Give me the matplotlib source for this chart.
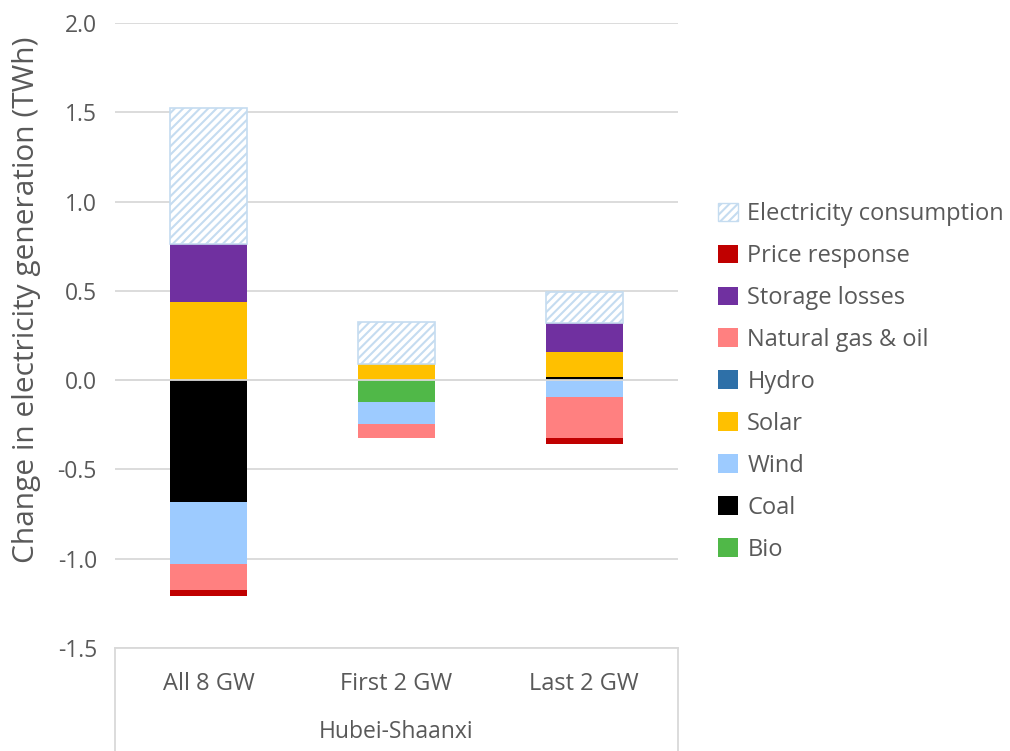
import matplotlib
matplotlib.use('Agg')
from matplotlib import pyplot as plt
from matplotlib.patches import Patch
import numpy as np

plt.rcParams['font.family'] = ['Open Sans', 'DejaVu Sans']
plt.rcParams['axes.unicode_minus'] = False
plt.rcParams['hatch.linewidth'] = 1.5

categories = ['All 8 GW', 'First 2 GW', 'Last 2 GW']
group_label = 'Hubei-Shaanxi'

# stacking order (bottom-up), values in TWh
bio = [0.0, -0.121, 0.0]
coal = [-0.683, 0.0, 0.015]
wind = [-0.349, -0.124, -0.093]
solar = [0.437, 0.091, 0.145]
hydro = [0.0, 0.0, 0.0]
gas_oil = [-0.144, -0.080, -0.230]
storage = [0.326, 0.0, 0.160]
price = [-0.034, 0.0, -0.032]
consumption = [0.762, 0.235, 0.175]

series = [
    ('Bio', bio, '#50B848'),
    ('Coal', coal, '#000000'),
    ('Wind', wind, '#9DCBFF'),
    ('Solar', solar, '#FFC000'),
    ('Hydro', hydro, '#2E70A8'),
    ('Natural gas & oil', gas_oil, '#FF8080'),
    ('Storage losses', storage, '#7030A0'),
    ('Price response', price, '#C00000'),
]

text_col = '#595959'
grid_col = '#D9D9D9'

fig = plt.figure(figsize=(10.1, 7.51), dpi=100)
ax = fig.add_axes([115 / 1010, 1 - 648 / 751, 563 / 1010, 625 / 751])

x = np.arange(len(categories))
w = 0.41
pos = np.zeros(len(categories))
neg = np.zeros(len(categories))
for name, vals, col in series:
    vals = np.array(vals)
    base = np.where(vals >= 0, pos, neg)
    ax.bar(x, vals, w, bottom=base, color=col, linewidth=0, zorder=3)
    pos = pos + np.clip(vals, 0, None)
    neg = neg + np.clip(vals, None, 0)

ax.bar(x, consumption, w, bottom=pos, facecolor='white', edgecolor='#C5DCF0',
       hatch='////', linewidth=1.2, zorder=3)
ax.axhline(0, color=grid_col, linewidth=1.3, zorder=4)

ax.set_xlim(-0.5, 2.5)
ax.set_ylim(-1.5, 2.0)
ticks = np.arange(-1.5, 2.01, 0.5)
ax.set_yticks(ticks)
ax.set_yticklabels(['%.1f' % v for v in ticks])
ax.yaxis.grid(True, color=grid_col, linewidth=1.3, zorder=0)
ax.set_axisbelow(True)
ax.tick_params(axis='y', length=0, pad=13, labelsize=16.5, labelcolor=text_col)
ax.set_xticks([])
for s in ['top', 'right', 'left']:
    ax.spines[s].set_visible(False)
ax.spines['bottom'].set_color(grid_col)
ax.spines['bottom'].set_linewidth(1.3)

# multi-level category box below the axis
ext = -(751 - 648) / 625
for xx in [0, 1]:
    ax.plot([xx, xx], [0, ext], transform=ax.transAxes, color=grid_col,
            linewidth=1.3, clip_on=False)
for i, c in enumerate(categories):
    ax.text(i, -1.5 - 0.2, c, ha='center', va='center', fontsize=17,
            color=text_col, clip_on=False)
ax.text(1, -1.5 - 0.47, group_label, ha='center', va='center', fontsize=16.5,
        color=text_col, clip_on=False)

ax.set_ylabel('Change in electricity generation (TWh)', fontsize=21.5,
              color=text_col)
ax.yaxis.set_label_coords(-(115 - 41) / 563, 0.557)

handles = [Patch(facecolor='white', edgecolor='#C5DCF0', hatch='////',
                 linewidth=1.0, label='Electricity consumption')]
for name, vals, col in reversed(series):
    handles.append(Patch(facecolor=col, edgecolor='none', label=name))
fig.legend(handles=handles, loc='upper left', bbox_to_anchor=(697 / 1010, 1 - 181 / 751),
           frameon=False, fontsize=17, labelcolor=text_col, handlelength=0.85,
           handleheight=0.85, handletextpad=0.38, labelspacing=0.76)

fig.savefig('out.png', dpi=100)
